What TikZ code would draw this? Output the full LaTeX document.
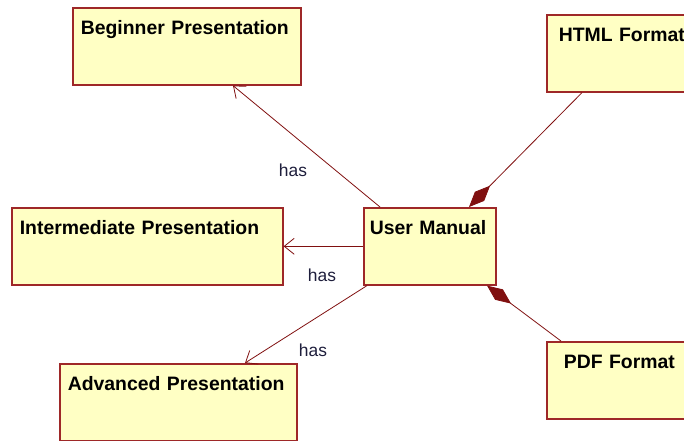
\documentclass[tikz,border=0pt]{standalone}
\usepackage{fontspec}
\setmainfont{Liberation Sans}
\usetikzlibrary{arrows.meta}
\definecolor{classfill}{RGB}{255,255,196}
\definecolor{classborder}{RGB}{158,40,40}
\definecolor{assocline}{RGB}{128,16,16}
\definecolor{labelink}{RGB}{30,30,60}

\begin{document}
\begin{tikzpicture}[x=1pt,y=-1pt,
    umlclass/.style={draw=classborder, fill=classfill, line width=1.6pt,
      anchor=north west, inner xsep=8pt, inner ysep=0pt, align=left,
      text height=27pt, text depth=50pt, text width=#1,
      font=\fontsize{19.4}{22}\selectfont\bfseries},
    has/.style={draw=assocline, line width=0.8pt,
      -{Straight Barb[length=10pt,width=16pt]}},
    composes/.style={draw=assocline, line width=0.8pt,
      -{Diamond[length=30pt,width=13pt,fill=assocline]}},
    haslabel/.style={text=labelink, inner sep=0pt,
      font=\fontsize{17.4}{19}\selectfont}]
  \useasboundingbox (0,0) rectangle (684,440);
  \clip (0,0) rectangle (684,440);

  \node[umlclass=212pt] (Beginner) at (72,7) {Beginner Presentation};
  \node[umlclass=255pt] (Intermediate) at (11,207) {Intermediate Presentation};
  \node[umlclass=221pt] (Advanced) at (59,363) {Advanced Presentation};
  \node[umlclass=120pt, inner xsep=6pt] (UserManual) at (363,207) {User Manual};
  \node[umlclass=136pt, inner xsep=12pt] (HTMLFormat) at (546,14) {HTML Format};
  \node[umlclass=126pt, inner xsep=17pt] (PDFFormat) at (546,341) {PDF Format};

  \draw[has] ([xshift=17pt]UserManual.north west) -- ([xshift=161pt]Beginner.south west);
  \draw[has] (UserManual.west) -- (Intermediate.east);
  \draw[has] ([xshift=4pt]UserManual.south west) -- ([xshift=186pt]Advanced.north west);
  \draw[composes] ([xshift=36pt]HTMLFormat.south west) -- ([xshift=106pt]UserManual.north west);
  \draw[composes] ([xshift=15pt]PDFFormat.north west) -- ([xshift=124pt]UserManual.south west);

  \node[haslabel] (hasBeginner) at (293,170) {has};
  \node[haslabel] (hasIntermediate) at (322,275) {has};
  \node[haslabel] (hasAdvanced) at (313,350) {has};
\end{tikzpicture}
\end{document}
